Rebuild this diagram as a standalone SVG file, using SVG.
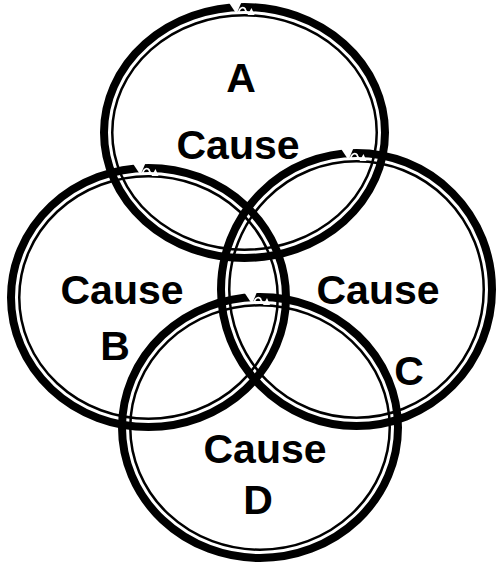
<svg xmlns="http://www.w3.org/2000/svg" xmlns:xlink="http://www.w3.org/1999/xlink" width="496" height="565" viewBox="0 0 496 565">
<style>
.thick{fill:none;stroke:#000;stroke-width:8}
.thin{fill:none;stroke:#000;stroke-width:2.5}
.lbl{font-family:"Liberation Sans",Arial,sans-serif;font-weight:bold;font-size:41px;fill:#000;text-anchor:middle}
</style>
<defs>
<g id="notch">
<polygon points="-16,-1 -3,-1 -8,11" fill="#fff"/>
<path d="M-6,10 C-5,4 0,3 1,7 C2,10 4,11 7,9" fill="none" stroke="#fff" stroke-width="1.8"/>
<polygon points="3,12 10,12 7,5" fill="#fff"/>
</g>
</defs>
<rect width="496" height="565" fill="#fff"/>
<g id="circleA">
<ellipse class="thick" cx="244.5" cy="132.5" rx="140.5" ry="125.5"/>
<ellipse class="thin" cx="244.5" cy="132.5" rx="132.25" ry="117.25"/>
<use xlink:href="#notch" x="244.5" y="3"/>
<text class="lbl" x="241" y="92">A</text>
<text class="lbl" x="238" y="159">Cause</text>
</g>
<g id="circleB">
<ellipse class="thick" cx="148.5" cy="297.5" rx="137.5" ry="129.5"/>
<ellipse class="thin" cx="148.5" cy="297.5" rx="129.25" ry="121.25"/>
<use xlink:href="#notch" x="148.5" y="164"/>
<text class="lbl" x="122" y="304">Cause</text>
<text class="lbl" x="115" y="360">B</text>
</g>
<g id="circleC">
<ellipse class="thick" cx="356.5" cy="289.5" rx="135.5" ry="136.5"/>
<ellipse class="thin" cx="356.5" cy="289.5" rx="127.25" ry="128.25"/>
<use xlink:href="#notch" x="356.5" y="149"/>
<text class="lbl" x="378" y="304">Cause</text>
<text class="lbl" x="409" y="385">C</text>
</g>
<g id="circleD">
<ellipse class="thick" cx="260" cy="427.5" rx="138" ry="130.5"/>
<ellipse class="thin" cx="260" cy="427.5" rx="129.75" ry="122.25"/>
<use xlink:href="#notch" x="260" y="293"/>
<text class="lbl" x="265" y="463">Cause</text>
<text class="lbl" x="258" y="514">D</text>
</g>
<g id="connectors"></g>
</svg>
